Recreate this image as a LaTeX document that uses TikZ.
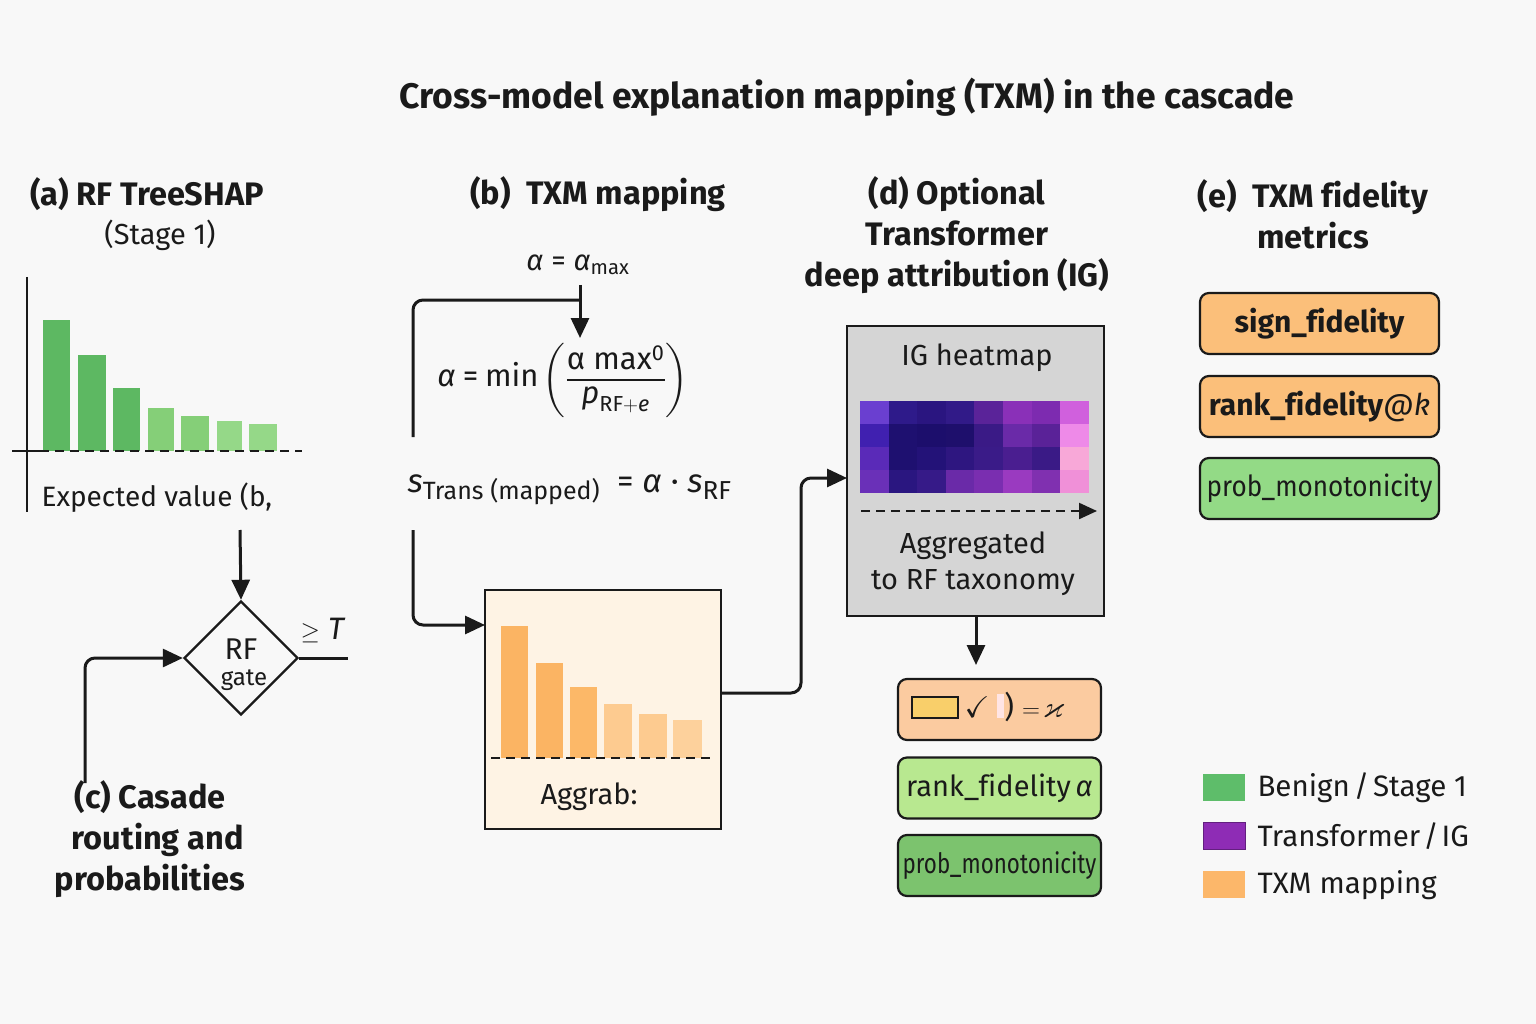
\documentclass[tikz,border=0pt]{standalone}
\usepackage{fontspec}
\usepackage{amsmath,amssymb}
\usepackage{graphicx}
\setmainfont{Fira Sans}[Ligatures=NoCommon]
\usetikzlibrary{shapes.geometric,arrows.meta}
\definecolor{bgc}{HTML}{F8F8F8}
\definecolor{gA}{HTML}{5DB862}
\definecolor{gB}{HTML}{85CF78}
\definecolor{gC}{HTML}{95D888}
\definecolor{oA}{HTML}{FBB463}
\definecolor{oB}{HTML}{FCB868}
\definecolor{oC}{HTML}{FDCB90}
\definecolor{oD}{HTML}{FDD19C}
\definecolor{obg}{HTML}{FEF3E4}
\definecolor{gbg}{HTML}{D5D5D5}
\definecolor{peach}{HTML}{FBCBA0}
\definecolor{lgreen}{HTML}{B8E890}
\definecolor{mgreen}{HTML}{7CC36E}
\definecolor{eorange}{HTML}{FBBF7A}
\definecolor{egreen}{HTML}{93DA86}
\definecolor{legG}{HTML}{5EBD6A}
\definecolor{legP}{HTML}{8E2CB5}
\definecolor{legO}{HTML}{FCB76A}
\definecolor{ylw}{HTML}{F9CF6A}
\definecolor{ink}{HTML}{1A1A1A}
\tikzset{
  heading/.style={font=\bfseries\fontsize{32.5}{41}\selectfont, align=center, text=ink},
  plain/.style={font=\fontsize{29}{36}\selectfont, text=ink},
  conn/.style={draw=ink, line width=3pt},
  arr/.style={conn, -{Triangle[length=20pt,width=18pt]}},
  metric/.style={draw=ink, line width=2.2pt, rounded corners=9pt, minimum width=239pt, minimum height=61pt, text=ink},
  dmetric/.style={draw=ink, line width=2.2pt, rounded corners=9pt, minimum width=203pt, minimum height=61pt, text=ink},
  dashline/.style={draw=ink, line width=2.2pt, dash pattern=on 9pt off 6pt},
  swatch/.style={minimum width=42pt, minimum height=27pt, inner sep=0pt},
  legtxt/.style={anchor=west, font=\fontsize{29.5}{34}\selectfont, text=ink}
}
\begin{document}
\begin{tikzpicture}[x=1pt,y=-1pt]
\fill[bgc] (0,0) rectangle (1536,1024);
\useasboundingbox (0,0) rectangle (1536,1024);

% title
\node[font=\bfseries\fontsize{35.5}{40}\selectfont, text=ink] (title) at (847,97) {Cross-model explanation mapping (TXM) in the cascade};

% headings
\node[heading] (ha) at (147,194) {(a) RF TreeSHAP};
\node[plain] (hastage) at (160,235) {(Stage 1)};
\node[heading] (hb) at (598,194) {(b)\ \ TXM mapping};
\node[heading] (hd) at (957,235) {(d) Optional\\Transformer\\deep attribution (IG)};
\node[heading] (he) at (1313,214) {(e)\ \ TXM fidelity\\metrics};

% (a) chart
\draw[conn, line width=2.6pt] (27,277) -- (27,512);
\draw[conn, line width=2.6pt] (12,451) -- (40,451);
\fill[gA] (43,320) rectangle (70,451);
\fill[gA] (78,355) rectangle (106,451);
\fill[gA] (113,388) rectangle (140,451);
\fill[gB] (148,408) rectangle (174,451);
\fill[gB] (181,416) rectangle (209,451);
\fill[gC] (217,421) rectangle (242,451);
\fill[gC] (249,424) rectangle (277,451);
\draw[dashline] (40,451) -- (302,451);
\node[plain, anchor=west, font=\fontsize{28}{32}\selectfont] (ev) at (38,498) {Expected value (b,};

% (c) gate
\node[draw=ink, line width=2.4pt, shape=diamond, minimum width=114pt, minimum height=114pt, inner sep=0pt] (gate) at (241,658) {};
\node[font=\fontsize{30}{30}\selectfont, text=ink] (gRF) at (241,649) {RF};
\node[font=\fontsize{24}{26}\selectfont, text=ink] (ggate) at (244,680) {gate};
\node[font=\fontsize{31}{34}\selectfont, text=ink] (geT) at (323,631) {$\geq$ \textit{T}};
\coordinate (evb) at (240,530);
\draw[arr] (evb) -- (gate.north);
\coordinate (cst) at (85,783);
\draw[arr, rounded corners=10pt] (cst) |- (gate.west);
\coordinate (gout) at (348,658);
\draw[conn] (gate.east) -- (gout);
\node[heading] (hc) at (150,839) {(c) Casade\\\ \ routing and\\probabilities};

% (b) mapping
\node[font=\fontsize{29}{32}\selectfont, text=ink] (amax) at (578,265) {\textit{α} = \textit{α}\textsubscript{max}};
\node[font=\fontsize{31}{34}\selectfont, text=ink] (fmin) at (563,380) {$\text{\itshape α} \mathrel{\text{=}} \text{min}\left(\dfrac{\text{α max}^{\text{0}}}{\text{\itshape p}_{\text{RF}+\text{\itshape e}}}\right)$};
\node[font=\fontsize{33}{36}\selectfont, text=ink, anchor=west] (smap) at (404,490) {\textit{s}\raisebox{-7pt}{\fontsize{25}{28}\selectfont Trans (mapped)}\ \ = \textit{α} · \textit{s}\raisebox{-7pt}{\fontsize{26}{28}\selectfont RF}};
\coordinate (bJ) at (580,300);
\coordinate (bT) at (580,285);
\coordinate (bL1) at (413,437);
\coordinate (bL2) at (413,530);
\draw[conn, rounded corners=10pt] (bJ) -| (bL1);
\draw[arr] (bT) -- (580,338);

% orange box
\node[draw=ink, line width=2.2pt, fill=obg, minimum width=236pt, minimum height=239pt, inner sep=0pt] (obox) at (603,709.5) {};
\fill[oA] (501,626) rectangle (528,758);
\fill[oA] (536,663) rectangle (563,758);
\fill[oB] (570,687) rectangle (597,758);
\fill[oC] (604,704) rectangle (632,758);
\fill[oC] (639,714) rectangle (667,758);
\fill[oD] (673,720) rectangle (702,758);
\draw[dashline] (491,758) -- (710,758);
\node[plain] (aggrab) at (589,797) {Aggrab:};
\coordinate (oin) at (485,625);
\draw[arr, rounded corners=10pt] (bL2) |- (oin);

% gray box
\node[draw=ink, line width=2.2pt, fill=gbg, minimum width=257pt, minimum height=290pt, inner sep=0pt] (gbox) at (975.5,471) {};
\node[font=\fontsize{29}{30}\selectfont, text=ink] (igh) at (977,358) {IG heatmap};
\foreach \row/\cols [count=\r from 0] in {
  0/{6A3FD0,2E1A8A,2A1580,311A88,5A2399,8A30B8,7D2BB0,D060DD},
  1/{4020B0,1E1070,1C0E6C,1E0F6C,3A1A86,6A2AA8,5A2298,EE8AE8},
  2/{5A2AB8,1E1070,231278,2E1680,3A1B88,4A1E90,3A1A86,F8A8D8},
  3/{6A30B8,2A1680,361A88,6A2AA8,7A2EB0,9A3AC0,8030B0,F090D8}} {
  \foreach \hx [count=\c from 0] in \cols {
    \definecolor{hm}{HTML}{\hx}
    \fill[hm] ({860+\c*28.6},{401+\r*23}) rectangle ({860+(\c+1)*28.6+0.3},{401+(\r+1)*23+0.3});
  }
}
\coordinate (dS) at (861,511);
\coordinate (dE) at (1097,511);
\draw[dashline, -{Triangle[length=18pt,width=16pt]}] (dS) -- (dE);
\node[font=\fontsize{29}{36}\selectfont, text=ink, align=center] (aggr) at (973,564) {Aggregated\\to RF taxonomy};
\coordinate (oout) at (721,693);
\coordinate (gin) at (847,478);
\draw[arr, rounded corners=10pt] (oout) -- (801,693) -- (801,478) -- (gin);
\draw[arr] (gbox.south -| 976,0) -- (976,665);

% (d) metric boxes
\node[dmetric, fill=peach] (d1) at (999.5,709.5) {};
\node[draw=ink, line width=2.2pt, fill=ylw, minimum width=46pt, minimum height=21pt, inner sep=0pt] (d1r) at (935,707.5) {};
\node[font=\fontsize{30}{32}\selectfont, text=ink, anchor=west] (d1t) at (961,707) {$\checkmark$\ \textcolor{pink!40}{\rule{7pt}{24pt}}) $=\!\varkappa$};
\node[dmetric, fill=lgreen, font=\fontsize{29}{32}\selectfont] (d2) at (999.5,788) {rank\_fidelity\,\textit{α}};
\node[dmetric, fill=mgreen, font=\fontsize{28}{32}\selectfont] (d3) at (999.5,865.5) {\scalebox{0.8}[1]{prob\_monotonicity}};

% (e) metric boxes
\node[metric, fill=eorange, font=\bfseries\fontsize{30}{32}\selectfont] (e1) at (1319.5,323.5) {sign\_fidelity};
\node[metric, fill=eorange, font=\fontsize{30}{32}\selectfont] (e2) at (1319.5,406.5) {\textbf{rank\_fidelity}\textit{@k}};
\node[metric, fill=egreen, font=\fontsize{29}{32}\selectfont] (e3) at (1319.5,488.5) {\scalebox{0.9}[1]{prob\_monotonicity}};

% legend
\node[swatch, fill=legG] (lg1) at (1224,787) {};
\node[swatch, fill=legP, draw=legP!70!black, line width=1pt] (lg2) at (1224,835.5) {};
\node[swatch, fill=legO] (lg3) at (1224,884.5) {};
\node[legtxt] (lt1) at (1254,788) {Benign\hspace{4pt}/\hspace{4pt}Stage 1};
\node[legtxt] (lt2) at (1254,836) {Transformer\hspace{3pt}/\hspace{3pt}IG};
\node[legtxt] (lt3) at (1254,885) {TXM mapping};
\end{tikzpicture}
\end{document}
